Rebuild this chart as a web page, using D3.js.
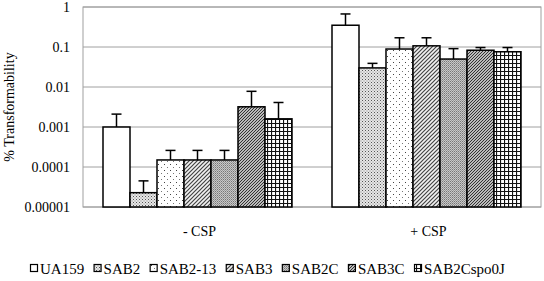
<!DOCTYPE html>
<html>
<head>
<meta charset="utf-8">
<script src="https://cdn.jsdelivr.net/npm/d3@7"></script>
<style>
  body { margin: 0; background: #fff; }
</style>
</head>
<body>
<div id="grafico"></div>
<script>
const groups  = ["- CSP", "+ CSP"];
const strains = ["UA159", "SAB2", "SAB2-13", "SAB3", "SAB2C", "SAB3C", "SAB2Cspo0J"];
const valuesMinus = [0.001, 0.0000228, 0.00015, 0.00015, 0.00015, 0.0032, 0.0016];
const errorsMinus = [0.0021, 0.000045, 0.00026, 0.00026, 0.00026, 0.0078, 0.0041];
const valuesPlus  = [0.35, 0.030, 0.089, 0.107, 0.050, 0.083, 0.076];
const errorsPlus  = [0.67, 0.039, 0.17, 0.17, 0.091, 0.097, 0.097];
const yTicks = [1, 0.1, 0.01, 0.001, 0.0001, 0.00001];
const tickLabels = ["1", "0.1", "0.01", "0.001", "0.0001", "0.00001"];

const serif = "'Liberation Serif'";

const margin = { top: 7, left: 83, bottom: 74, right: 3 };
const width  = 544 - margin.left - margin.right;
const height = 281 - margin.top - margin.bottom;

const root = d3.select("#grafico")
               .append("svg")
               .attr("width", 544)
               .attr("height", 281);

// fill patterns
const defs = root.append("defs");
const pat = (id, size) => defs.append("pattern")
                              .attr("id", id)
                              .attr("patternUnits", "userSpaceOnUse")
                              .attr("width", size)
                              .attr("height", size);

pat("p-white", 4).append("rect").attr("width", 4).attr("height", 4).attr("fill", "#fff");

let p = pat("p-sab2", 3);
p.append("rect").attr("width", 3).attr("height", 3).attr("fill", "#e6e6e6");
p.append("rect").attr("width", 1).attr("height", 1).attr("fill", "#555");
p.append("rect").attr("x", 1.5).attr("y", 1.5).attr("width", 1).attr("height", 1).attr("fill", "#888");

p = pat("p-sab213", 6);
p.append("rect").attr("width", 6).attr("height", 6).attr("fill", "#fff");
p.append("rect").attr("x", 1).attr("y", 1).attr("width", 1).attr("height", 1).attr("fill", "#444");
p.append("rect").attr("x", 4).attr("y", 4).attr("width", 1).attr("height", 1).attr("fill", "#777");

p = pat("p-sab3", 4);
p.append("rect").attr("width", 4).attr("height", 4).attr("fill", "#f2f2f2");
p.append("path").attr("d", "M-1,1 L1,-1 M0,4 L4,0 M3,5 L5,3").attr("stroke", "#444").attr("stroke-width", 1.2);

p = pat("p-sab2c", 2);
p.append("rect").attr("width", 2).attr("height", 2).attr("fill", "#c8c8c8");
p.append("rect").attr("width", 1).attr("height", 1).attr("fill", "#777");
p.append("rect").attr("x", 1).attr("y", 1).attr("width", 1).attr("height", 1).attr("fill", "#999");

p = pat("p-sab3c", 3);
p.append("rect").attr("width", 3).attr("height", 3).attr("fill", "#bbb");
p.append("path").attr("d", "M-1,1 L1,-1 M0,3 L3,0 M2,4 L4,2").attr("stroke", "#333").attr("stroke-width", 1);

p = pat("p-sab2cspo", 4);
p.append("rect").attr("width", 4).attr("height", 4).attr("fill", "#fff");
p.append("path").attr("d", "M0,0.5 H4 M0.5,0 V4").attr("stroke", "#111").attr("stroke-width", 1.2);

const fills = ["p-white", "p-sab2", "p-sab213", "p-sab3", "p-sab2c", "p-sab3c", "p-sab2cspo"];

const svg = root.append("g")
                .attr("transform", `translate(${margin.left}, ${margin.top})`);

const xScale = d3.scaleBand()
                 .domain(groups)
                 .range([0, width]);

const xInner = d3.scaleBand()
                 .domain(strains)
                 .range([0, 189]);

const yScale = d3.scaleLog()
                 .domain([0.00001, 1])
                 .range([height, 0]);

// gridlines
svg.append("g")
   .selectAll("line")
   .data(yTicks)
   .join("line")
   .attr("x1", 0)
   .attr("x2", width)
   .attr("y1", d => yScale(d))
   .attr("y2", d => yScale(d))
   .attr("stroke", "#a0a0a0")
   .attr("stroke-width", 1);

svg.append("rect")
   .attr("width", width)
   .attr("height", height)
   .attr("fill", "none")
   .attr("stroke", "#a0a0a0")
   .attr("stroke-width", 1);

// y axis labels
const yAxisCall = d3.axisLeft(yScale)
                    .tickValues(yTicks)
                    .tickFormat((d, i) => tickLabels[i])
                    .tickSize(0)
                    .tickPadding(13);

const yAxis = svg.append("g").call(yAxisCall);
yAxis.select(".domain").remove();
yAxis.selectAll("text")
     .attr("fill", "#000")
     .style("font-family", serif)
     .style("font-size", "14px");

svg.append("text")
   .attr("transform", `translate(${-69}, ${height / 2}) rotate(-90)`)
   .attr("text-anchor", "middle")
   .style("font-family", serif)
   .style("font-size", "14px")
   .text("% Transformability");

// bars
const data = [
  { group: groups[0], values: valuesMinus, errors: errorsMinus },
  { group: groups[1], values: valuesPlus,  errors: errorsPlus }
];

data.forEach(g => {
    const x0 = xScale(g.group) + (xScale.bandwidth() - 189) / 2;
    const gg = svg.append("g").attr("transform", `translate(${x0}, 0)`);
    const rows = strains.map((s, i) => ({ s, i, v: g.values[i], e: g.errors[i] }));

    gg.selectAll("line.err")
      .data(rows)
      .join("line")
      .attr("x1", d => xInner(d.s) + xInner.bandwidth() / 2)
      .attr("x2", d => xInner(d.s) + xInner.bandwidth() / 2)
      .attr("y1", d => yScale(d.v))
      .attr("y2", d => yScale(d.e))
      .attr("stroke", "#000")
      .attr("stroke-width", 1.5);

    gg.selectAll("line.cap")
      .data(rows)
      .join("line")
      .attr("x1", d => xInner(d.s) + xInner.bandwidth() / 2 - 5)
      .attr("x2", d => xInner(d.s) + xInner.bandwidth() / 2 + 5)
      .attr("y1", d => yScale(d.e))
      .attr("y2", d => yScale(d.e))
      .attr("stroke", "#000")
      .attr("stroke-width", 1.5);

    gg.selectAll("rect")
      .data(rows)
      .join("rect")
      .attr("x", d => xInner(d.s))
      .attr("y", d => yScale(d.v))
      .attr("width", xInner.bandwidth())
      .attr("height", d => height - yScale(d.v))
      .attr("fill", d => `url(#${fills[d.i]})`)
      .attr("stroke", "#000")
      .attr("stroke-width", 1.5);
});

// category labels
svg.selectAll("text.cat")
   .data(groups)
   .join("text")
   .attr("class", "cat")
   .attr("x", d => xScale(d) + xScale.bandwidth() / 2 + 2)
   .attr("y", 229)
   .attr("text-anchor", "middle")
   .style("font-family", serif)
   .style("font-size", "14px")
   .text(d => d);

// legend
const legend = root.append("g");
let lx = 30;
strains.forEach((s, i) => {
    legend.append("rect")
          .attr("x", lx + 0.5)
          .attr("y", 264.5)
          .attr("width", 7)
          .attr("height", 7)
          .attr("fill", `url(#${fills[i]})`)
          .attr("stroke", "#000")
          .attr("stroke-width", 1.2);
    const t = legend.append("text")
                    .attr("x", lx + 10)
                    .attr("y", 273.5)
                    .style("font-family", serif)
                    .style("font-size", "15px")
                    .text(s);
    lx += 10 + t.node().getComputedTextLength() + 9.4;
});
</script>
</body>
</html>
